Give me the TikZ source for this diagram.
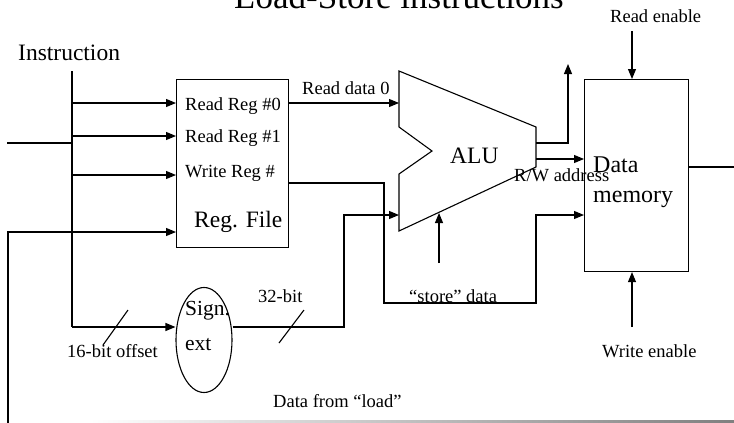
\documentclass[tikz,border=0pt]{standalone}
\usepackage{fontspec}
\setmainfont{Liberation Serif}
\usetikzlibrary{arrows.meta,shapes.geometric,calc}

\tikzset{
  wire/.style={line width=1.1pt},
  sig/.style={wire,-{Triangle[length=10pt,width=8pt]}},
  lbl/.style={inner sep=0pt,anchor=base west,font=\fontsize{18.5}{22}\selectfont},
  biglbl/.style={inner sep=0pt,anchor=base west,font=\fontsize{23.5}{29}\selectfont},
  unit/.style={draw,line width=1.1pt,inner sep=0pt,anchor=north west}
}

\begin{document}
\begin{tikzpicture}[x=1pt,y=-1pt]
\useasboundingbox (0,0) rectangle (734,423);

% title
\node[inner sep=0pt,anchor=base,font=\fontsize{35}{40}\selectfont] (title) at (399,9) {Load-Store instructions};

% units
\node[unit,minimum width=112pt,minimum height=168pt] (rf) at (176,79) {};
\node[unit,minimum width=104pt,minimum height=192pt] (dm) at (584,79) {};
\node[draw,line width=1.1pt,ellipse,inner sep=0pt,minimum width=56pt,minimum height=105pt] (se) at (204,340) {};

% ALU outline
\coordinate (aluTL) at (399,71);
\coordinate (aluTR) at (536,127);
\coordinate (aluBR) at (536,167);
\coordinate (aluBL) at (399,231);
\draw[wire,line join=miter] (aluTL) -- (aluTR) -- (aluBR) -- (aluBL) -- (399,174) -- (432,151) -- (399,127) -- cycle;

% labels
\node[font=\fontsize{23.5}{29}\selectfont,inner sep=0pt,anchor=base west] (instr) at (18,60) {Instruction};
\node[lbl] (rr0) at (185,110) {Read Reg \#0};
\node[lbl] (rr1) at (185,142) {Read Reg \#1};
\node[lbl] (wr) at (185,177) {Write Reg \#};
\node[biglbl] (rflbl) at (194,227) {Reg. File};
\node[lbl] (rd0) at (302,94) {Read data 0};
\node[biglbl] (alulbl) at (450,163) {ALU};
\node[lbl] (renable) at (610,22) {Read enable};
\node[inner sep=0pt,anchor=base west,font=\fontsize{24}{30}\selectfont] (dmlbl1) at (593,172) {Data};
\node[inner sep=0pt,anchor=base west,font=\fontsize{24}{30}\selectfont] (dmlbl2) at (593,202) {memory};
\node[lbl] (rwaddr) at (514,181) {R/W address};
\node[lbl] (store) at (409,302) {“store” data};
\node[lbl] (bits32) at (258,302) {32-bit};
\node[inner sep=0pt,anchor=base west,font=\fontsize{21.5}{26}\selectfont] (sign) at (185,315) {Sign.};
\node[inner sep=0pt,anchor=base west,font=\fontsize{21.5}{26}\selectfont] (ext) at (185,350) {ext};
\node[lbl] (bits16) at (67,357) {16-bit offset};
\node[lbl] (wenable) at (602,357) {Write enable};
\node[lbl] (load) at (273,407) {Data from “load”};

% instruction bus
\coordinate (busTop) at (72,71);
\coordinate (busBot) at (72,327);
\coordinate (busIn) at (7,143);
\draw[wire] (busTop) -- (busBot);
\draw[wire] (busIn) -- (busIn -| busTop);
\coordinate (b0) at (72,103);
\coordinate (b1) at (72,136);
\coordinate (b2) at (72,175);
\draw[sig] (b0) -- (b0 -| rf.west);
\draw[sig] (b1) -- (b1 -| rf.west);
\draw[sig] (b2) -- (b2 -| rf.west);
\draw[sig] (busTop |- busBot) -- (busBot -| se.west);
\draw[wire] (103,345) -- (128,310);

% data from load back into the register file
\coordinate (ldBot) at (8,423);
\coordinate (ldTurn) at (8,232);
\draw[sig] (ldBot) -- (ldTurn) -- (ldTurn -| rf.west);

% read data 0 into the ALU
\draw[sig] (rf.east |- b0) -- (b0 -| aluTL);

% sign extended offset into the ALU
\coordinate (seTurn) at (344,327);
\coordinate (aluIn1) at (399,215);
\draw[sig] (busBot -| se.east) -- (seTurn) -- (seTurn |- aluIn1) -- (aluIn1);
\draw[wire] (279,343) -- (304,310);

% store data path
\coordinate (st1) at (384,183);
\coordinate (st2) at (384,303);
\coordinate (st3) at (536,303);
\coordinate (st4) at (536,215);
\draw[sig] (rf.east |- st1) -- (st1) -- (st2) -- (st3) -- (st4) -- (st4 -| dm.west);

% ALU control
\coordinate (ctl) at (439,263);
\coordinate (ctlTip) at (439,213);
\draw[sig] (ctl) -- (ctlTip);

% ALU results
\coordinate (res1) at (536,143);
\coordinate (res1up) at (568,143);
\coordinate (res1tip) at (568,64);
\draw[sig] (res1) -- (res1up) -- (res1tip);
\coordinate (res2) at (536,159);
\draw[sig] (res2) -- (res2 -| dm.west);

% memory enables and output
\coordinate (ren) at (632,31);
\coordinate (wen) at (632,327);
\draw[sig] (ren) -- (ren |- dm.north);
\draw[sig] (wen) -- (wen |- dm.south);
\coordinate (dmOut) at (734,167);
\draw[wire] (dm.east |- dmOut) -- (dmOut);

% rule along the bottom
\shade[left color=white,right color=black!50] (90,420.5) rectangle (734,423);
\end{tikzpicture}
\end{document}
